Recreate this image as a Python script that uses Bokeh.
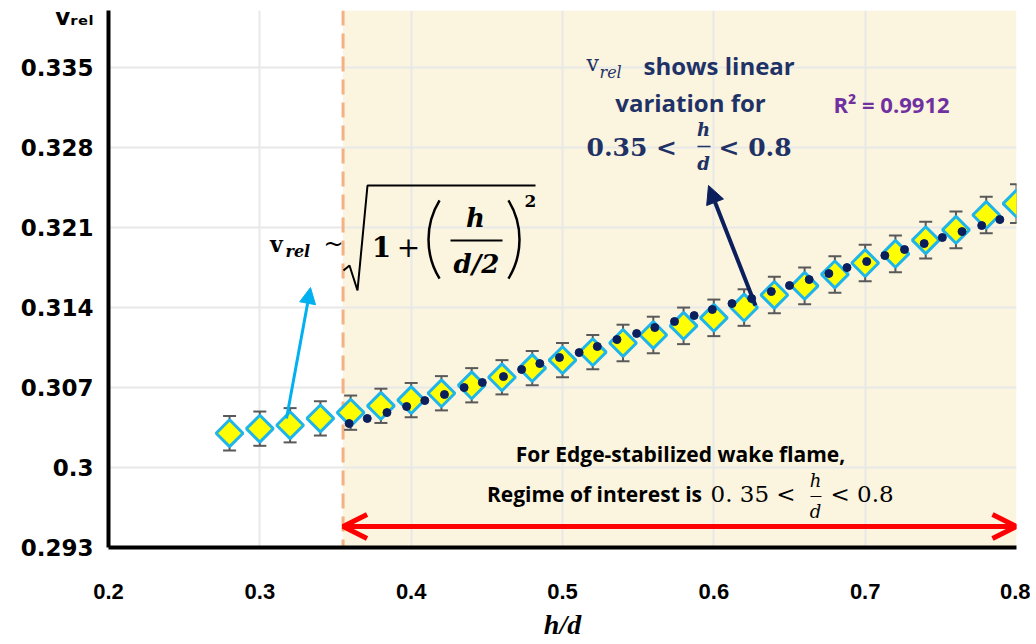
import numpy as np
from bokeh.plotting import figure
from bokeh.models import (Range1d, FixedTicker, CustomJSTickFormatter, BoxAnnotation, Span,
                          Whisker, TeeHead, ColumnDataSource, Label, Arrow, NormalHead, OpenHead)
from bokeh.embed import file_html
from bokeh.resources import INLINE

# ---------------- data ----------------
h_d = [0.28, 0.30, 0.32, 0.34, 0.36, 0.38, 0.40, 0.42, 0.44, 0.46, 0.48, 0.50, 0.52, 0.54,
       0.56, 0.58, 0.60, 0.62, 0.64, 0.66, 0.68, 0.70, 0.72, 0.74, 0.76, 0.78, 0.80]
v_rel = [0.3030, 0.3034, 0.3037, 0.3043, 0.3048, 0.3054, 0.3059, 0.3065, 0.3072, 0.3079,
         0.3087, 0.3094, 0.3101, 0.3109, 0.3116, 0.3124, 0.3131, 0.3140, 0.3151, 0.3159,
         0.3169, 0.3179, 0.3187, 0.3199, 0.3208, 0.3221, 0.3231]
v_err = [0.0015, 0.0015, 0.0015, 0.0015, 0.0015, 0.0015, 0.0015, 0.0015, 0.0015, 0.0015,
         0.0015, 0.0015, 0.0015, 0.0016, 0.0016, 0.0016, 0.0016, 0.0016, 0.0016, 0.0016,
         0.0016, 0.0016, 0.0016, 0.0016, 0.0016, 0.0016, 0.0017]

h_d_fit = [0.359, 0.371, 0.384, 0.397, 0.409, 0.422, 0.435, 0.447, 0.461, 0.473, 0.485, 0.498,
           0.511, 0.523, 0.536, 0.549, 0.561, 0.574, 0.587, 0.599, 0.612, 0.625, 0.638, 0.650,
           0.663, 0.676, 0.688, 0.701, 0.713, 0.726, 0.739, 0.751, 0.764, 0.777, 0.789]
v_fit = [0.30385, 0.30429, 0.30481, 0.30534, 0.30586, 0.30639, 0.30700, 0.30744, 0.30796,
         0.30858, 0.30910, 0.30963, 0.31006, 0.31059, 0.31120, 0.31173, 0.31225, 0.31278,
         0.31330, 0.31383, 0.31435, 0.31479, 0.31540, 0.31593, 0.31645, 0.31698, 0.31750,
         0.31803, 0.31855, 0.31908, 0.31960, 0.32013, 0.32065, 0.32118, 0.32170]

x_ticks = [0.2, 0.3, 0.4, 0.5, 0.6, 0.7, 0.8]
x_tick_labels = ["0.2", "0.3", "0.4", "0.5", "0.6", "0.7", "0.8"]
y_ticks = [0.293, 0.3, 0.307, 0.314, 0.321, 0.328, 0.335]
y_tick_labels = ["0.293", "0.3", "0.307", "0.314", "0.321", "0.328", "0.335"]
y_title = "vᵣₑₗ"
y_title_pos = 0.3394
x_title = "h/d"

regime_start = 0.355
regime_end = 0.8
X_MIN, X_MAX = 0.2, 0.8
Y_MIN, Y_MAX = 0.293, 0.340

# frame position in page pixels
FL, FR, FT, FB = 108, 1016, 10, 547
W, H = 1030, 644

# ---------------- figure ----------------
p = figure(width=W, height=H, x_range=Range1d(X_MIN, X_MAX), y_range=Range1d(Y_MIN, Y_MAX),
           output_backend="svg", toolbar_location=None,
           min_border_left=FL, min_border_right=W - FR, min_border_top=FT, min_border_bottom=H - FB)
p.outline_line_color = None
p.background_fill_color = "white"

def X(px):
    return X_MIN + (px - FL) * (X_MAX - X_MIN) / (FR - FL)
def Y(py):
    return Y_MAX - (py - FT) * (Y_MAX - Y_MIN) / (FB - FT)

# axes
for ax in (p.xaxis[0], p.yaxis[0]):
    ax.axis_line_width = 4
    ax.axis_line_color = "black"
    ax.major_tick_line_color = None
    ax.minor_tick_line_color = None
    ax.major_tick_out = 0
    ax.major_tick_in = 0
    ax.major_label_text_color = "black"
    ax.major_label_text_font_style = "bold"

lookup_code = """
let best = 0, bd = Infinity;
for (let i = 0; i < tv.length; i++) {
  const d = Math.abs(tv[i] - tick);
  if (d < bd) { bd = d; best = i; }
}
return tl[best];
"""

p.xaxis.ticker = FixedTicker(ticks=x_ticks)
p.xaxis.formatter = CustomJSTickFormatter(args=dict(tv=x_ticks, tl=x_tick_labels),
                                          code=lookup_code)
p.xaxis.major_label_text_font = "Liberation Sans"
p.xaxis.major_label_text_font_size = "22px"
p.xaxis.major_label_standoff = 36
p.xaxis.axis_label = x_title
p.xaxis.axis_label_text_font = "Liberation Serif"
p.xaxis.axis_label_text_font_style = "bold italic"
p.xaxis.axis_label_text_font_size = "28px"
p.xaxis.axis_label_text_color = "black"
p.xaxis.axis_label_standoff = 7

y_axis_ticks = y_ticks + [y_title_pos]
y_axis_labels = y_tick_labels + [y_title]
p.yaxis.ticker = FixedTicker(ticks=y_axis_ticks)
p.yaxis.formatter = CustomJSTickFormatter(args=dict(tv=y_axis_ticks, tl=y_axis_labels),
                                          code=lookup_code)
p.yaxis.major_label_text_font = "DejaVu Sans"
p.yaxis.major_label_text_font_size = "23px"
p.yaxis.major_label_standoff = 15

# grids (real ticks only)
p.xgrid.ticker = FixedTicker(ticks=x_ticks)
p.ygrid.ticker = FixedTicker(ticks=y_ticks)
for g in (p.xgrid[0], p.ygrid[0]):
    g.grid_line_color = "#E8E8E8"
    g.grid_line_width = 2

box = BoxAnnotation(left=regime_start, fill_color="#FBF4DF", fill_alpha=1.0, line_color=None,
                    level="underlay")
span = Span(location=regime_start, dimension="height", line_color="#F4B183", line_width=3,
            line_dash="15 8", level="underlay")

src = ColumnDataSource(dict(x=h_d, y=v_rel,
                            upper=[v + e for v, e in zip(v_rel, v_err)],
                            lower=[v - e for v, e in zip(v_rel, v_err)]))
whisk = Whisker(base="x", upper="upper", lower="lower", source=src,
                line_color="#595959", line_width=2, level="underlay",
                upper_head=TeeHead(size=13, line_color="#595959", line_width=2),
                lower_head=TeeHead(size=13, line_color="#595959", line_width=2))

grids = list(p.xgrid) + list(p.ygrid)
p.center = [box] + grids + [span, whisk]

p.scatter("x", "y", source=src, marker="square", size=19, angle=np.pi / 4,
          fill_color="#FFFF00", line_color="#1FB4EA", line_width=3)
p.scatter(h_d_fit, v_fit, marker="circle", size=8, fill_color="#0B1F5C", line_color="#0B1F5C")

# ---------------- annotations ----------------
def lab(text, px, py, size, font="Open Sans", style="bold", color="black", align="center"):
    p.add_layout(Label(x=X(px), y=Y(py), text=text, text_font=font,
                       text_font_size=f"{size}px", text_font_style=style,
                       text_color=color, text_align=align, text_baseline="middle"))

SERIF = "DejaVu Serif"
NAVY = "#1F3266"

# formula v_rel ~ sqrt(1 + (h/(d/2))^2)
lab("v", 276, 243, 22, font=SERIF, style="bold")
lab("rel", 285, 251, 16, font=SERIF, style="bold italic", align="left")
lab("~", 333, 243, 24, font=SERIF, style="normal")
rad_px = [(343, 270), (349, 265), (357, 290), (367, 185), (535, 185)]
p.line([X(a) for a, b in rad_px], [Y(b) for a, b in rad_px], line_color="black", line_width=2)
lab("1", 381, 246, 28, font=SERIF, style="bold")
lab("+", 408, 246, 28, font=SERIF, style="normal")
p.arc(x=[X(503)], y=[Y(239)], radius=75, radius_units="screen",
      start_angle=np.pi - 0.55, end_angle=np.pi + 0.55, line_color="black", line_width=2.5)
p.arc(x=[X(444)], y=[Y(239)], radius=75, radius_units="screen",
      start_angle=-0.55, end_angle=0.55, line_color="black", line_width=2.5)
lab("h", 475, 217, 26, font=SERIF, style="bold italic")
p.line([X(450), X(502)], [Y(240), Y(240)], line_color="black", line_width=2)
lab("d/2", 476, 263, 26, font=SERIF, style="bold italic")
lab("2", 530, 200, 17, font=SERIF, style="bold")

# navy annotation
lab("v", 586, 63, 22, font=SERIF, style="normal", color=NAVY, align="left")
lab("rel", 599, 72, 16, font=SERIF, style="italic", color=NAVY, align="left")
lab("shows linear", 643, 65, 24, color=NAVY, align="left")
lab("variation for", 690, 102, 24, color=NAVY)
lab("0.35 <", 586, 147, 25, font=SERIF, style="bold", color=NAVY, align="left")
lab("h", 703, 129, 18, font=SERIF, style="bold italic", color=NAVY)
p.line([X(697), X(710)], [Y(146), Y(146)], line_color=NAVY, line_width=1.5)
lab("d", 703, 163, 18, font=SERIF, style="bold italic", color=NAVY)
lab("< 0.8", 718, 147, 25, font=SERIF, style="bold", color=NAVY, align="left")

lab("R² = 0.9912", 833, 103, 22, color="#7030A0", align="left")

# regime text
lab("For Edge-stabilized wake flame,", 680, 453, 21)
lab("Regime of interest  is", 707, 493, 21, align="right")
lab("0. 35 <", 710, 493, 23, font=SERIF, style="normal", align="left")
lab("h", 815, 480, 18, font=SERIF, style="italic")
p.line([X(810), X(821)], [Y(496), Y(496)], line_color="black", line_width=1.2)
lab("d", 815, 511, 18, font=SERIF, style="italic")
lab("< 0.8", 830, 493, 23, font=SERIF, style="normal", align="left")

# arrows
p.add_layout(Arrow(x_start=X(286), y_start=Y(418), x_end=X(310), y_end=Y(287),
                   line_color="#00B0F0", line_width=3,
                   end=NormalHead(size=16, fill_color="#00B0F0", line_color="#00B0F0")))
p.add_layout(Arrow(x_start=X(755), y_start=Y(305), x_end=X(708), y_end=Y(185),
                   line_color="#0B1F5C", line_width=4,
                   end=NormalHead(size=18, fill_color="#0B1F5C", line_color="#0B1F5C")))
p.add_layout(Arrow(x_start=regime_start, y_start=Y(526), x_end=regime_end, y_end=Y(526),
                   line_color="#FF0000", line_width=5,
                   start=OpenHead(size=24, line_color="#FF0000", line_width=5),
                   end=OpenHead(size=24, line_color="#FF0000", line_width=5)))

open("out.html", "w").write(file_html(p, INLINE))
